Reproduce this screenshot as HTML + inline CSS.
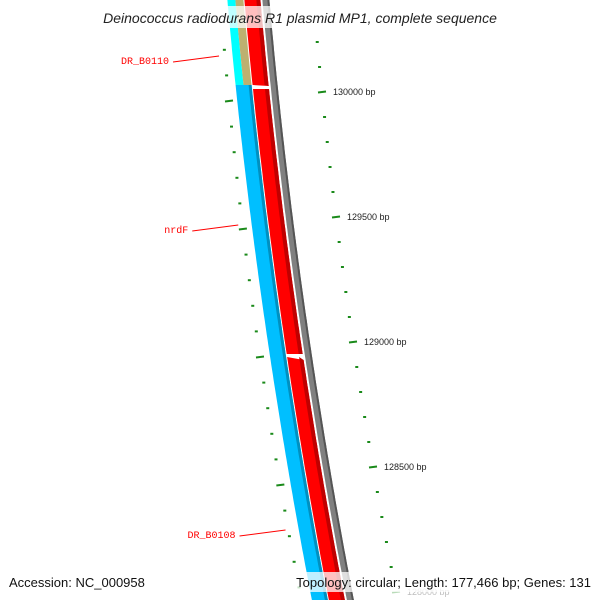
<!DOCTYPE html>
<html><head><meta charset="utf-8"><style>
body{margin:0;background:#fff;}
svg{display:block;font-family:"Liberation Sans","DejaVu Sans",sans-serif;}
</style></head><body>
<svg width="600" height="600" viewBox="0 0 600 600">
<g id="bands"></g><g id="ticks"></g><g id="labels"></g>
<rect x="80" y="6" width="440" height="22" fill="#fff" opacity="0.75"/>
<text x="300" y="23" text-anchor="middle" font-size="14" font-style="italic" fill="#222">Deinococcus radiodurans R1 plasmid MP1, complete sequence</text>
<rect x="4" y="572" width="592" height="20" fill="#fff" opacity="0.75"/>
<text x="9" y="587" font-size="13" fill="#111">Accession: NC_000958</text>
<text x="591" y="587" text-anchor="end" font-size="13" fill="#111">Topology: circular; Length: 177,466 bp; Genes: 131</text>
</svg>
<script>
const tickBp=[130200,130100,130000,129900,129800,129700,129600,129500,129400,129300,129200,129100,129000,128900,128800,128700,128600,128500,128400,128300,128200,128100,128000];
const tickLabels=["130000 bp","129500 bp","129000 bp","128500 bp","128000 bp"];
const labelBp=[130000,129500,129000,128500,128000];
const geneNames=["DR_B0110","nrdF","DR_B0108"];
const geneLabelY=[60,229,534];
const NS="http://www.w3.org/2000/svg";
function yOut(bp){return 92+(130000-bp)*0.25;}
function xOut(y){const t=y-92;return 322+0.1*t+9.6e-5*t*t;}
function yIn(bp){return 101+(130000-bp)*0.256;}
function xIn(y){const t=y-101;return 229+0.0957*t+9.9e-5*t*t;}
function L(y){return 227.4+0.0886*y+8.7e-5*y*y;}
function mk(tag,attrs,parent){const e=document.createElementNS(NS,tag);for(const k in attrs)e.setAttribute(k,attrs[k]);parent.appendChild(e);return e;}
function band(o1,o2,y1,y2){let p="";for(let y=y1;y<=y2;y+=5)p+=(p?"L":"M")+(L(y)+o1).toFixed(1)+","+y+" ";for(let y=y2;y>=y1;y-=5)p+="L"+(L(y)+o2).toFixed(1)+","+y+" ";return p+"Z";}
const B=document.getElementById("bands");
let e;
e=mk("path",{d:band(35,42,-10,610),fill:"#808080"},B);


mk("path",{d:band(40,42,-10,610),fill:"#555"},B);
e=mk("path",{d:band(0,8,-10,85),fill:"#00ffff"},B);


e=mk("path",{d:band(8,16,-10,85),fill:"#bdb070"},B);


e=mk("path",{d:band(0,16,85,610),fill:"#00bfff"},B);


mk("path",{d:band(13,16,85,610),fill:"#0090c0"},B);
[[-10,86],[89,354],[357,610]].forEach(function(s,i){
 e=mk("path",{d:band(17,33,s[0],s[1]),fill:"#ff0000"},B);
 
 
 mk("path",{d:band(29,33,s[0],s[1]),fill:"#c00000"},B);
});
const T=document.getElementById("ticks");
tickBp.forEach(function(bp){
 const major=bp%500===0;const y=yOut(bp);const x=xOut(y);
 e=mk("line",{x1:x-(major?4:1.5),y1:y+(major?0.5:0),x2:x+(major?4:1.5),y2:y-(major?0.5:0),stroke:"#1a8a1a","stroke-width":2,opacity:bp<=128000?0.3:1},T);
 
 
 const yi=yIn(bp);const xi=xIn(yi);
 e=mk("line",{x1:xi-(major?4:1.5),y1:yi+(major?0.5:0),x2:xi+(major?4:1.5),y2:yi-(major?0.5:0),stroke:"#1a8a1a","stroke-width":2},T);
 
 
});
labelBp.forEach(function(bp,i){
 const y=yOut(bp);
 e=mk("text",{x:xOut(y)+11,y:y+3,"font-size":9,fill:"#222",opacity:bp<=128000?0.3:1},T);
 e.textContent=tickLabels[i];
 
 
});
const G=document.getElementById("labels");
geneNames.forEach(function(n,i){
 const y=geneLabelY[i];const tx=L(y)-14;
 e=mk("text",{x:tx-50,y:y+4,"font-size":10,fill:"#ff0000","text-anchor":"end","font-family":"Liberation Mono, monospace"},G);
 e.textContent=n;
 
 
 e=mk("line",{x1:tx-46,y1:y+2,x2:tx,y2:y-4,stroke:"#ff0000","stroke-width":1},G);
 
 
});
</script>
</body></html>
